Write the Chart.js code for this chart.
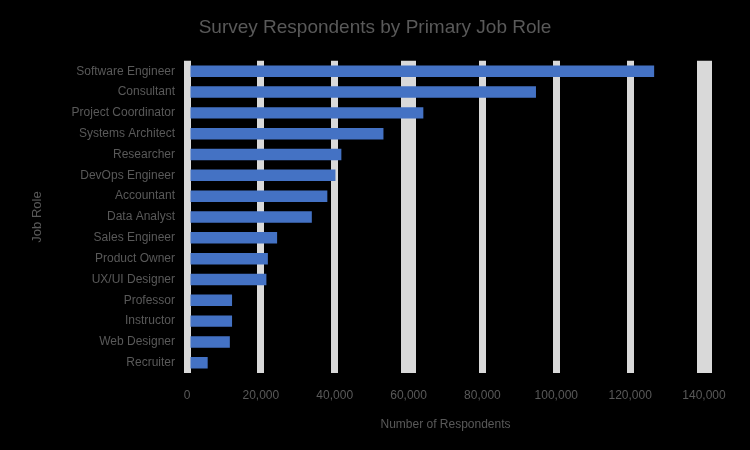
<!DOCTYPE html>
<html>
<head>
<meta charset="utf-8">
<title>Survey Respondents by Primary Job Role</title>
<script src="https://cdn.jsdelivr.net/npm/chart.js@4"></script>
<style>
    html, body {
        margin: 0;
        padding: 0;
        background: #000000;
    }
    .chart-box {
        width: 750px;
        height: 450px;
    }
</style>
</head>
<body>
<div class="chart-box">
    <canvas id="roleChart" width="750" height="450"></canvas>
</div>
<script>
// Chart data
const roles = [
    'Software Engineer',
    'Consultant',
    'Project Coordinator',
    'Systems Architect',
    'Researcher',
    'DevOps Engineer',
    'Accountant',
    'Data Analyst',
    'Sales Engineer',
    'Product Owner',
    'UX/UI Designer',
    'Professor',
    'Instructor',
    'Web Designer',
    'Recruiter'
];
const respondents = [126500, 94500, 64000, 53200, 41800, 40200, 38000, 33800, 24400, 21900, 21500, 12200, 12200, 11600, 5600];
const xTicks = [0, 20000, 40000, 60000, 80000, 100000, 120000, 140000];

const textColor = '#595959';
const fontFamily = '"Liberation Sans", Arial, sans-serif';

document.addEventListener('DOMContentLoaded', function() {
    initializeRoleChart();
});

function initializeRoleChart() {
    const ctx = document.getElementById('roleChart');
    if (!ctx) return;

    new Chart(ctx, {
        type: 'bar',
        data: {
            labels: roles,
            datasets: [{
                label: 'Respondents',
                data: respondents,
                backgroundColor: '#4472C4',
                borderWidth: 0,
                categoryPercentage: 1,
                barPercentage: 0.55
            }]
        },
        options: {
            indexAxis: 'y',
            responsive: false,
            animation: false,
            layout: {
                padding: { left: 0, right: 0, top: 0, bottom: 18 }
            },
            plugins: {
                legend: { display: false },
                tooltip: { enabled: false },
                title: {
                    display: true,
                    text: 'Survey Respondents by Primary Job Role',
                    color: textColor,
                    font: { family: fontFamily, size: 19, weight: 'normal' },
                    padding: { top: 16, bottom: 22 }
                }
            },
            scales: {
                x: {
                    min: 0,
                    max: 140000,
                    afterBuildTicks: function(scale) {
                        scale.ticks = xTicks.map(v => ({ value: v }));
                    },
                    grid: {
                        color: '#d9d9d9',
                        // two of the lines are drawn wider in the original
                        lineWidth: function(c) {
                            return (c.index === 3 || c.index === 7) ? 15 : 7;
                        },
                        drawTicks: false
                    },
                    border: { display: false },
                    ticks: {
                        color: textColor,
                        padding: 15,
                        font: { family: fontFamily, size: 12 }
                    },
                    title: {
                        display: true,
                        text: 'Number of Respondents',
                        color: textColor,
                        font: { family: fontFamily, size: 12 },
                        padding: { top: 0, bottom: 0 }
                    }
                },
                y: {
                    afterFit: function(scale) {
                        scale.width = 187;
                    },
                    grid: { display: false, drawTicks: false },
                    border: { display: false },
                    ticks: {
                        color: textColor,
                        autoSkip: false,
                        padding: 12,
                        font: { family: fontFamily, size: 12 }
                    },
                    title: {
                        display: true,
                        text: 'Job Role',
                        color: textColor,
                        font: { family: fontFamily, size: 13 },
                        padding: { top: 30, bottom: 0 }
                    }
                },
                // empty axis on the right, just keeps the plot off the edge
                // so the title stays centred on the whole canvas
                spacer: {
                    type: 'linear',
                    position: 'right',
                    axis: 'y',
                    afterFit: function(scale) {
                        scale.width = 46;
                    },
                    grid: { display: false, drawTicks: false },
                    border: { display: false },
                    ticks: { display: false }
                }
            }
        }
    });
}
</script>
</body>
</html>
